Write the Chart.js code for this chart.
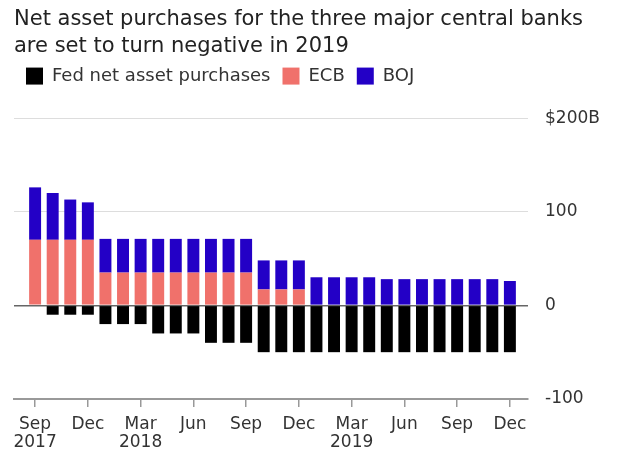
<!DOCTYPE html>
<html>
<head>
<meta charset="utf-8">
<script src="https://cdn.jsdelivr.net/npm/chart.js@4/dist/chart.umd.min.js"></script>
<style>
  html, body { margin: 0; padding: 0; background: #fff; }
  #wrap { width: 620px; height: 454px; }
</style>
</head>
<body>
<div id="wrap"><canvas id="myChart"></canvas></div>
<script>
// monthly, Sep 2017 - Dec 2019, $ billions
var months = ['Sep 2017', 'Oct 2017', 'Nov 2017', 'Dec 2017',
  'Jan 2018', 'Feb 2018', 'Mar 2018', 'Apr 2018', 'May 2018', 'Jun 2018',
  'Jul 2018', 'Aug 2018', 'Sep 2018', 'Oct 2018', 'Nov 2018', 'Dec 2018',
  'Jan 2019', 'Feb 2019', 'Mar 2019', 'Apr 2019', 'May 2019', 'Jun 2019',
  'Jul 2019', 'Aug 2019', 'Sep 2019', 'Oct 2019', 'Nov 2019', 'Dec 2019'];
var fed = [0, -10, -10, -10, -20, -20, -20, -30, -30, -30, -40, -40, -40, -50, -50, -50,
  -50, -50, -50, -50, -50, -50, -50, -50, -50, -50, -50, -50];
var ecb = [70, 70, 70, 70, 35, 35, 35, 35, 35, 35, 35, 35, 35, 17, 17, 17,
  0, 0, 0, 0, 0, 0, 0, 0, 0, 0, 0, 0];
var boj = [56, 50, 43, 40, 36, 36, 36, 36, 36, 36, 36, 36, 36, 31, 31, 31,
  30, 30, 30, 30, 28, 28, 28, 28, 28, 28, 28, 26];
// one label every third month
var tickLabels = [['Sep', '2017'], ['Dec', ''], ['Mar', '2018'], ['Jun', ''], ['Sep', ''],
  ['Dec', ''], ['Mar', '2019'], ['Jun', ''], ['Sep', ''], ['Dec', '']];
var yLabels = { '200': '$200B', '100': '100', '0': '0', '-100': '-100' };

var font = "'DejaVu Sans', 'Liberation Sans', Arial, sans-serif";

// push the plot down a bit below the legend
var legendGap = {
  id: 'legendGap',
  beforeInit: function (chart) {
    var fit = chart.legend.fit;
    chart.legend.fit = function () {
      fit.bind(chart.legend)();
      this.height += 23;
    };
  }
};

var ctx = document.getElementById("myChart");
var myChart = new Chart(ctx, {
  type: 'bar',
  data: {
    labels: months.map(function (m, i) { return i; }),
    datasets: [{
      label: 'Fed net asset purchases',
      data: fed,
      backgroundColor: '#000000'
    }, {
      label: 'ECB',
      data: ecb,
      backgroundColor: '#f0716b'
    }, {
      label: 'BOJ',
      data: boj,
      backgroundColor: '#2300c6'
    }]
  },
  plugins: [legendGap],
  options: {
    responsive: true,
    maintainAspectRatio: false,
    animation: false,
    layout: { padding: { left: 14, right: 0, top: 0, bottom: 0 } },
    datasets: {
      bar: { categoryPercentage: 1, barPercentage: 0.68, borderWidth: 0 }
    },
    scales: {
      x: {
        type: 'linear',
        stacked: true,
        min: -1.2,
        max: 28.03,
        offset: false,
        afterBuildTicks: function (axis) {
          axis.ticks = tickLabels.map(function (t, i) { return { value: i * 3 }; });
        },
        afterFit: function (axis) { axis.height = 55; },
        grid: {
          offset: false,
          drawOnChartArea: false,
          drawTicks: true,
          tickLength: 8,
          color: '#999',
          lineWidth: 1.5
        },
        border: { display: true, color: '#999', width: 2 },
        ticks: {
          autoSkip: false,
          maxRotation: 0,
          padding: 8,
          color: '#333',
          font: { family: font, size: 17, lineHeight: 1.1 },
          callback: function (value) {
            var t = tickLabels[value / 3];
            return t ? t : null;
          }
        }
      },
      y: {
        position: 'right',
        stacked: true,
        min: -100,
        max: 200,
        afterBuildTicks: function (axis) {
          axis.ticks = [-100, 0, 100, 200].map(function (v) { return { value: v }; });
        },
        afterFit: function (axis) { axis.width = 92; },
        border: { display: false },
        grid: {
          drawTicks: false,
          color: function (c) {
            if (c.tick && c.tick.value === 0) return '#666';
            if (c.tick && c.tick.value === -100) return 'rgba(0,0,0,0)';
            return '#dddddd';
          },
          lineWidth: function (c) {
            return c.tick && c.tick.value === 0 ? 1.5 : 1;
          }
        },
        ticks: {
          padding: 17,
          color: '#333',
          font: { family: font, size: 17 },
          callback: function (value) { return yLabels[String(value)]; }
        }
      }
    },
    plugins: {
      title: {
        display: true,
        align: 'start',
        text: ['Net asset purchases for the three major central banks',
          'are set to turn negative in 2019'],
        color: '#222',
        font: { family: font, size: 21, weight: 'normal', lineHeight: 1.24 },
        padding: { top: 7, bottom: -4 }
      },
      legend: {
        display: true,
        align: 'start',
        labels: {
          boxWidth: 17,
          boxHeight: 17,
          padding: 12,
          color: '#333',
          font: { family: font, size: 18 }
        }
      },
      tooltip: {
        callbacks: {
          title: function (items) { return months[items[0].parsed.x]; }
        }
      }
    }
  }
});
</script>
</body>
</html>
